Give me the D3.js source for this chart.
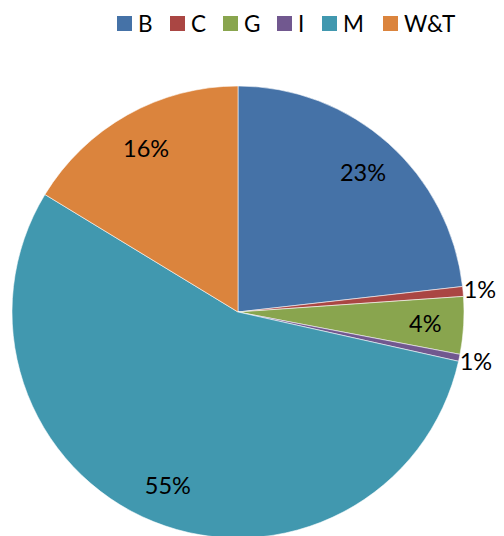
<!DOCTYPE html>
<html>
<head>
<meta charset="utf-8">
<script src="https://cdn.jsdelivr.net/npm/d3@7"></script>
<style>
  html, body { margin: 0; padding: 0; background: #fff; }
  svg { display: block; }
</style>
</head>
<body>
<svg id="chart" width="504" height="536"></svg>
<script>
// Share of each category (percent)
const categories = ["B", "C", "G", "I", "M", "W&T"];
const values = [23.2, 0.7, 4.1, 0.5, 55.2, 16.3];
const colors = ["#4572A7", "#AA4643", "#89A54E", "#71588F", "#4198AF", "#DB843D"];

const svg = d3.select("#chart");
const cx = 238, cy = 312, radius = 226;
const total = d3.sum(values);

const pie = d3.pie().sort(null).value(d => d.value);
const arcs = pie(categories.map((c, i) => ({ name: c, value: values[i], color: colors[i] })));

const arc = d3.arc().innerRadius(0).outerRadius(radius);
const g = svg.append("g").attr("transform", `translate(${cx},${cy})`);

g.selectAll("path.slice")
  .data(arcs)
  .join("path")
  .attr("class", "slice")
  .attr("d", arc)
  .attr("fill", d => d.data.color)
  .attr("stroke", "#ffffff")
  .attr("stroke-width", 0.8)
  .attr("stroke-opacity", 0.7);

// Labels: large slices inside, thin slices just outside the rim
const insideArc = d3.arc().innerRadius(radius * 0.83).outerRadius(radius * 0.83);
const outsideArc = d3.arc().innerRadius(radius * 1.075).outerRadius(radius * 1.075);

g.selectAll("text.pct")
  .data(arcs)
  .join("text")
  .attr("class", "pct")
  .attr("transform", d => {
    const frac = d.data.value / total;
    const p = (frac < 0.02 ? outsideArc : insideArc).centroid(d);
    return `translate(${p[0]},${p[1]})`;
  })
  .attr("text-anchor", "middle")
  .attr("dy", "0.36em")
  .attr("font-family", "Lato, 'Open Sans', sans-serif")
  .attr("font-size", 23.5)
  .attr("fill", "#000")
  .text(d => Math.round(d.data.value / total * 100) + "%");

// Legend across the top
const legendX = [117, 170, 223, 277, 322, 383];
const legend = svg.append("g");
const items = legend.selectAll("g.item")
  .data(categories)
  .join("g")
  .attr("class", "item")
  .attr("transform", (d, i) => `translate(${legendX[i]},16)`);

items.append("rect")
  .attr("width", 15)
  .attr("height", 15)
  .attr("fill", (d, i) => colors[i]);

items.append("text")
  .attr("x", 21)
  .attr("y", 15.5)
  .attr("font-family", "Lato, 'Open Sans', sans-serif")
  .attr("font-size", 22.5)
  .attr("fill", "#000")
  .text(d => d);
</script>
</body>
</html>
